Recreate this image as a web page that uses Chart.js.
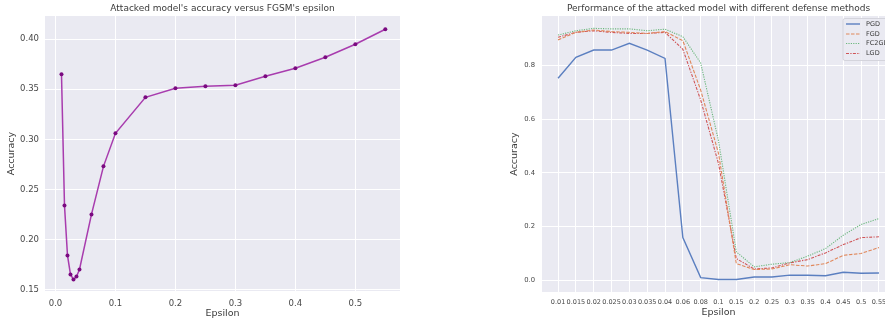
<!DOCTYPE html>
<html>
<head>
<meta charset="utf-8">
<script src="https://cdn.jsdelivr.net/npm/chart.js@4"></script>
<style>
  html, body { margin: 0; padding: 0; background: #fff; overflow: hidden; }
  body { width: 885px; height: 322px; position: relative; }
  #leftChart { position: absolute; left: 0; top: 0; }
  #rightChart { position: absolute; left: 490px; top: 0; }
</style>
</head>
<body>
<canvas id="leftChart" width="450" height="322"></canvas>
<canvas id="rightChart" width="420" height="322"></canvas>
<script>
// ---- left chart: FGSM epsilon sweep ----
let fgsmEpsilons = [0.01, 0.015, 0.02, 0.025, 0.03, 0.035, 0.04, 0.06, 0.08, 0.1,
                    0.15, 0.2, 0.25, 0.3, 0.35, 0.4, 0.45, 0.5, 0.55];
let fgsmAccuracy = [0.365, 0.234, 0.184, 0.165, 0.160, 0.163, 0.170, 0.225, 0.273, 0.306,
                    0.342, 0.351, 0.353, 0.354, 0.363, 0.371, 0.382, 0.395, 0.410];
let leftXTicks = [0.0, 0.1, 0.2, 0.3, 0.4, 0.5];
let leftYTicks = [0.15, 0.20, 0.25, 0.30, 0.35, 0.40];

// ---- right chart: defense methods ----
let epsLabels = ['0.01', '0.015', '0.02', '0.025', '0.03', '0.035', '0.04', '0.06', '0.08', '0.1',
                 '0.15', '0.2', '0.25', '0.3', '0.35', '0.4', '0.45', '0.5', '0.55'];
let pgdAcc   = [0.753, 0.831, 0.858, 0.858, 0.883, 0.858, 0.827, 0.159, 0.010, 0.003,
                0.003, 0.012, 0.012, 0.019, 0.019, 0.017, 0.030, 0.026, 0.027];
let fgdAcc   = [0.896, 0.924, 0.933, 0.927, 0.924, 0.920, 0.927, 0.893, 0.709, 0.473,
                0.062, 0.040, 0.042, 0.058, 0.053, 0.062, 0.093, 0.100, 0.122];
let fc2gdAcc = [0.914, 0.930, 0.939, 0.937, 0.937, 0.930, 0.936, 0.908, 0.810, 0.520,
                0.106, 0.050, 0.060, 0.066, 0.090, 0.118, 0.168, 0.208, 0.230];
let lgdAcc   = [0.906, 0.924, 0.930, 0.924, 0.920, 0.920, 0.924, 0.861, 0.672, 0.435,
                0.081, 0.042, 0.046, 0.065, 0.077, 0.102, 0.133, 0.159, 0.162];
let methodNames = ['PGD', 'FGD', 'FC2GD', 'LGD'];
let rightYTicks = [0.0, 0.2, 0.4, 0.6, 0.8];

const FONT = "'DejaVu Sans', sans-serif";
const TXT = '#3a3a3a';
const TICK = '#484848';

// seaborn-ish grey panel + a title centred over the plot
function panelPlugin(title) {
  return {
    id: 'panel',
    beforeDraw(chart) {
      const a = chart.chartArea, ctx = chart.ctx;
      ctx.save();
      ctx.fillStyle = '#EAEAF2';
      ctx.fillRect(a.left, a.top, a.right - a.left, a.bottom - a.top);
      ctx.restore();
    },
    afterDraw(chart) {
      const a = chart.chartArea, ctx = chart.ctx;
      ctx.save();
      ctx.font = '9px ' + FONT;
      ctx.fillStyle = TXT;
      ctx.textAlign = 'center';
      ctx.textBaseline = 'middle';
      ctx.fillText(title, (a.left + a.right) / 2, 8.5);
      ctx.restore();
    }
  };
}

function toPoints(xs, ys) {
  let pts = [];
  for (let i = 0; i < ys.length; i++) pts.push({x: xs[i], y: ys[i]});
  return pts;
}

let leftOptions = {
  type: 'line',
  data: {
    datasets: [{
      data: toPoints(fgsmEpsilons, fgsmAccuracy),
      borderColor: '#a83cae',
      borderWidth: 1.5,
      pointRadius: 2,
      pointBackgroundColor: '#7a0a80',
      pointBorderColor: '#7a0a80',
      pointBorderWidth: 0,
      fill: false,
      tension: 0
    }]
  },
  options: {
    responsive: false,
    animation: false,
    layout: {padding: {left: 0, top: 16, right: 50, bottom: 3}},
    plugins: {legend: {display: false}, tooltip: {enabled: false}},
    scales: {
      x: {
        type: 'linear', min: -0.0175, max: 0.5745,
        afterBuildTicks: s => { s.ticks = leftXTicks.map(v => ({value: v})); },
        afterFit: s => { s.height = 28; },
        grid: {color: '#ffffff', lineWidth: 1, drawTicks: false},
        border: {display: false},
        ticks: {font: {family: FONT, size: 8.5}, color: TICK, padding: 8,
                maxRotation: 0, callback: v => v.toFixed(1)},
        title: {display: true, text: 'Epsilon', color: TXT,
                font: {family: FONT, size: 9.5}, padding: {top: 0, bottom: 0}}
      },
      y: {
        min: 0.1485, max: 0.4232,
        afterBuildTicks: s => { s.ticks = leftYTicks.map(v => ({value: v})); },
        afterFit: s => { s.width = 45; },
        grid: {color: '#ffffff', lineWidth: 1, drawTicks: false},
        border: {display: false},
        ticks: {font: {family: FONT, size: 8.5}, color: TICK, padding: 6,
                callback: v => v.toFixed(2)},
        title: {display: true, text: 'Accuracy', color: TXT,
                font: {family: FONT, size: 9.5}, padding: {top: 6, bottom: 0}}
      }
    }
  },
  plugins: [panelPlugin("Attacked model's accuracy versus FGSM's epsilon")]
};

let leftChart = new Chart(document.getElementById('leftChart'), leftOptions);

// legend box drawn inside the plot, top right like matplotlib
const legendPlugin = {
  id: 'innerLegend',
  afterDatasetsDraw(chart) {
    const ctx = chart.ctx;
    const bx = 353, by = 18.5, bw = 60, bh = 42;
    ctx.save();
    ctx.fillStyle = 'rgba(234,234,242,0.85)';
    ctx.strokeStyle = '#d4d4dc';
    ctx.lineWidth = 1;
    ctx.beginPath();
    ctx.roundRect(bx, by, bw, bh, 2);
    ctx.fill();
    ctx.stroke();
    ctx.font = '6.5px ' + FONT;
    ctx.textBaseline = 'middle';
    ctx.fillStyle = TXT;
    const rows = [24, 34, 43.5, 53.5];
    chart.data.datasets.forEach((ds, i) => {
      const y = rows[i];
      ctx.strokeStyle = ds.borderColor;
      ctx.lineWidth = ds.borderWidth;
      ctx.setLineDash(ds.borderDash || []);
      ctx.beginPath();
      ctx.moveTo(356, y);
      ctx.lineTo(370, y);
      ctx.stroke();
      ctx.setLineDash([]);
      ctx.fillText(ds.label, 376, y);
    });
    ctx.restore();
  }
};

let idx = epsLabels.map((e, i) => i);
let seriesList = [pgdAcc, fgdAcc, fc2gdAcc, lgdAcc];
let colors = ['#5b7fc0', '#e0875a', '#6cb87e', '#cf5457'];
let dashes = [[], [3.5, 1.5], [1.2, 1.2], [3, 1.3, 1.3, 1.3]];

let rightDatasets = [];
for (let i = 0; i < seriesList.length; i++) {
  rightDatasets.push({
    label: methodNames[i],
    data: toPoints(idx, seriesList[i]),
    borderColor: colors[i],
    borderWidth: i === 0 ? 1.4 : 1.1,
    borderDash: dashes[i],
    pointRadius: 0,
    fill: false,
    tension: 0
  });
}

let rightOptions = {
  type: 'line',
  data: {datasets: rightDatasets},
  options: {
    responsive: false,
    animation: false,
    layout: {padding: {left: 0, top: 16, right: 15, bottom: 3}},
    plugins: {legend: {display: false}, tooltip: {enabled: false}},
    scales: {
      x: {
        type: 'linear', min: -0.9, max: 18.9,
        afterBuildTicks: s => { s.ticks = idx.map(v => ({value: v})); },
        afterFit: s => { s.height = 27; },
        grid: {color: '#ffffff', lineWidth: 1, drawTicks: false},
        border: {display: false},
        ticks: {font: {family: FONT, size: 6.5}, color: TICK, padding: 6,
                autoSkip: false, maxRotation: 0, minRotation: 0,
                callback: v => epsLabels[v]},
        title: {display: true, text: 'Epsilon', color: TXT,
                font: {family: FONT, size: 9.5}, padding: {top: 0, bottom: 1}}
      },
      y: {
        min: -0.0437, max: 0.985,
        afterBuildTicks: s => { s.ticks = rightYTicks.map(v => ({value: v})); },
        afterFit: s => { s.width = 52; },
        grid: {color: '#ffffff', lineWidth: 1, drawTicks: false},
        border: {display: false},
        ticks: {font: {family: FONT, size: 6.8}, color: TICK, padding: 7,
                callback: v => v.toFixed(1)},
        title: {display: true, text: 'Accuracy', color: TXT,
                font: {family: FONT, size: 9.5}, padding: {top: 19, bottom: 0}}
      }
    }
  },
  plugins: [panelPlugin('Performance of the attacked model with different defense methods'), legendPlugin]
};

let rightChart = new Chart(document.getElementById('rightChart'), rightOptions);
</script>
</body>
</html>
